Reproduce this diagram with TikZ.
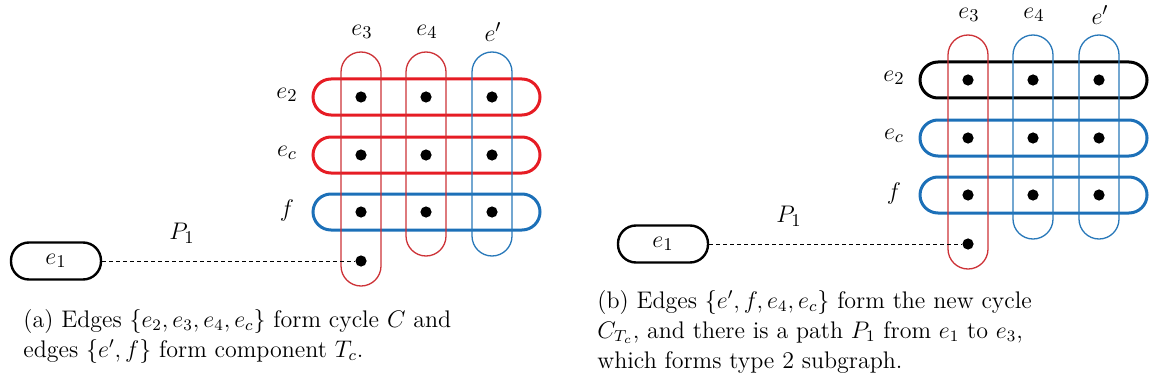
\documentclass[tikz,border=0pt]{standalone}
\definecolor{rowred}{RGB}{230,28,36}
\definecolor{colred}{RGB}{205,50,55}
\definecolor{rowblue}{RGB}{28,112,184}
\definecolor{colblue}{RGB}{40,120,185}
\begin{document}
\begin{tikzpicture}[x=0.5pt,y=-0.5pt,
  hrow/.style={draw, line width=1.5pt, rounded corners=9pt, minimum width=113.5pt, minimum height=18pt, inner sep=0pt},
  vcol/.style={draw, line width=0.65pt, rounded corners=10pt, minimum width=20pt, inner sep=0pt},
  longcol/.style={vcol, minimum height=117pt},
  shortcol/.style={vcol, minimum height=102pt},
  vtx/.style={circle, fill=black, inner sep=0pt, minimum size=5.6pt},
  lab/.style={font=\fontsize{13}{15}\selectfont, inner sep=0pt},
  pathnode/.style={draw, line width=1.2pt, rounded corners=9pt, minimum width=45pt, minimum height=18.5pt, inner sep=0pt, font=\fontsize{13}{15}\selectfont},
  pathline/.style={dashed, dash pattern=on 2pt off 1.5pt, line width=0.5pt},
  captext/.style={font=\fontsize{12}{15}\selectfont, align=left, inner sep=0pt, anchor=base west}
]
\useasboundingbox (0,0) rectangle (1149,385);

% ---------------- panel (a) ----------------
\node[hrow, draw=rowred]  (a-e2) at (426.5,97)  {};
\node[hrow, draw=rowred]  (a-ec) at (426.5,155) {};
\node[hrow, draw=rowblue] (a-f)  at (426.5,212) {};
\node[longcol, draw=colred]   (a-e3) at (361,169) {};
\node[shortcol, draw=colred]  (a-e4) at (426,154) {};
\node[shortcol, draw=colblue] (a-ep) at (492,154) {};
\foreach \cx/\cn in {361/3,426/4,492/p}{
  \foreach \ry/\rn in {97/2,155/c,212/f}{
    \node[vtx] (a-v\cn\rn) at (\cx,\ry) {};
  }
}
\node[vtx] (a-vb) at (361,261) {};
\node[pathnode] (a-e1) at (56,261) {$e_1$};
\draw[pathline] (a-e1.east) -- (a-vb);
\node[lab] (a-l3) at (362,32) {$e_3$};
\node[lab] (a-l4) at (427,32) {$e_4$};
\node[lab] (a-lp) at (493,32) {$e'$};
\node[lab] (a-l2) at (287,95) {$e_2$};
\node[lab] (a-lc) at (287,153) {$e_c$};
\node[lab] (a-lf) at (287,210) {$f$};
\node[lab] (a-lP) at (182,233) {$P_1$};
\node[captext] (a-cap) at (23,357) {(a) Edges $\{e_2,e_3,e_4,e_c\}$ form cycle $C$ and\\edges $\{e',f\}$ form component $T_c$.};

% ---------------- panel (b) ----------------
\begin{scope}[shift={(607,-17)}]
\node[hrow, draw=black]   (b-e2) at (426.5,97)  {};
\node[hrow, draw=rowblue] (b-ec) at (426.5,155) {};
\node[hrow, draw=rowblue] (b-f)  at (426.5,212) {};
\node[longcol, draw=colred]   (b-e3) at (361,169) {};
\node[shortcol, draw=colblue] (b-e4) at (426,154) {};
\node[shortcol, draw=colblue] (b-ep) at (492,154) {};
\foreach \cx/\cn in {361/3,426/4,492/p}{
  \foreach \ry/\rn in {97/2,155/c,212/f}{
    \node[vtx] (b-v\cn\rn) at (\cx,\ry) {};
  }
}
\node[vtx] (b-vb) at (361,261) {};
\node[pathnode] (b-e1) at (56,261) {$e_1$};
\draw[pathline] (b-e1.east) -- (b-vb);
\node[lab] (b-l3) at (362,32) {$e_3$};
\node[lab] (b-l4) at (427,32) {$e_4$};
\node[lab] (b-lp) at (493,32) {$e'$};
\node[lab] (b-l2) at (287,95) {$e_2$};
\node[lab] (b-lc) at (287,153) {$e_c$};
\node[lab] (b-lf) at (287,210) {$f$};
\node[lab] (b-lP) at (182,233) {$P_1$};
\end{scope}
\node[captext] (b-cap) at (597,368) {(b) Edges $\{e',f,e_4,e_c\}$ form the new cycle\\$C_{T_c}$, and there is a path $P_1$ from $e_1$ to $e_3$,\\which forms type 2 subgraph.};
\end{tikzpicture}
\end{document}
